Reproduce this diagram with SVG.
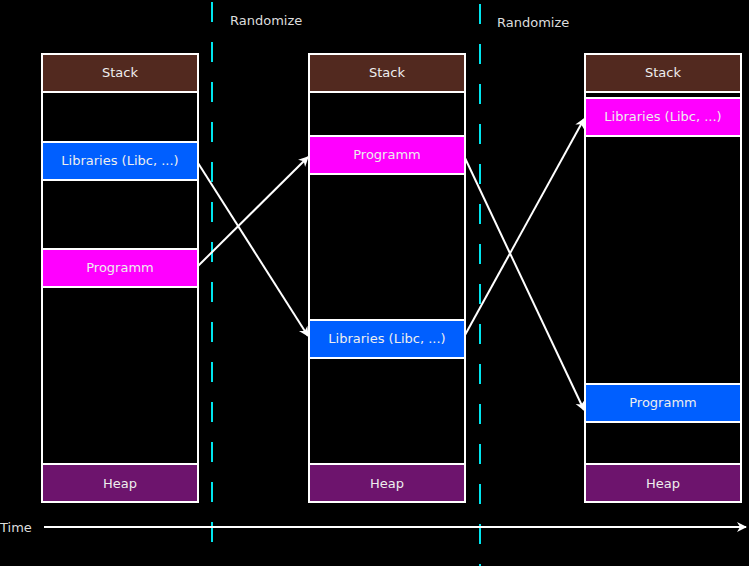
<svg xmlns="http://www.w3.org/2000/svg" width="749" height="566" viewBox="0 0 749 566">
<style>
.col{fill:#000;stroke:#fff;stroke-width:2}
.box{stroke:#fff;stroke-width:2}
.stack{fill:#52291f}
.heap{fill:#6d146d}
.blue{fill:#005fff}
.magenta{fill:#ff00ff}
.lbl{font-family:"DejaVu Sans",sans-serif;font-size:13px;fill:#eeeeee;text-anchor:middle}
.ann{font-family:"DejaVu Sans",sans-serif;font-size:13px;fill:#dddddd}
.dash{stroke:#00e5ee;stroke-width:2;stroke-dasharray:20 20;fill:none}
.conn{stroke:#fff;stroke-width:2;fill:none;marker-end:url(#ah)}
</style>
<defs>
<marker id="ah" viewBox="-10 -6 12 12" refX="0" refY="0" markerWidth="12" markerHeight="12" markerUnits="userSpaceOnUse" orient="auto">
<path d="M1,0 L-9,-5 L-6,0 L-9,5 z" fill="#fff"/>
</marker>
</defs>
<rect width="749" height="566" fill="#000"/>
<g id="randomize-lines">
<line class="dash" x1="212" y1="2" x2="212" y2="542"/>
<line class="dash" x1="480" y1="4" x2="480" y2="566"/>
</g>
<text class="ann" x="230" y="25">Randomize</text>
<text class="ann" x="497" y="27">Randomize</text>
<g id="memory1">
<rect class="col" x="42" y="54" width="156" height="448"/>
<g id="stack1"><rect class="box stack" x="42" y="54" width="156" height="38"/><text class="lbl" x="120" y="77">Stack</text></g>
<g id="lib1"><rect class="box blue" x="42" y="142" width="156" height="38"/><text class="lbl" x="120" y="165">Libraries (Libc, ...)</text></g>
<g id="prog1"><rect class="box magenta" x="42" y="249" width="156" height="38"/><text class="lbl" x="120" y="272">Programm</text></g>
<g id="heap1"><rect class="box heap" x="42" y="464" width="156" height="38"/><text class="lbl" x="120" y="488">Heap</text></g>
</g>
<g id="memory2">
<rect class="col" x="309" y="54" width="156" height="448"/>
<g id="stack2"><rect class="box stack" x="309" y="54" width="156" height="38"/><text class="lbl" x="387" y="77">Stack</text></g>
<g id="prog2"><rect class="box magenta" x="309" y="136" width="156" height="38"/><text class="lbl" x="387" y="159">Programm</text></g>
<g id="lib2"><rect class="box blue" x="309" y="320" width="156" height="38"/><text class="lbl" x="387" y="343">Libraries (Libc, ...)</text></g>
<g id="heap2"><rect class="box heap" x="309" y="464" width="156" height="38"/><text class="lbl" x="387" y="488">Heap</text></g>
</g>
<g id="memory3">
<rect class="col" x="585" y="54" width="156" height="448"/>
<g id="stack3"><rect class="box stack" x="585" y="54" width="156" height="38"/><text class="lbl" x="663" y="77">Stack</text></g>
<g id="lib3"><rect class="box magenta" x="585" y="98" width="156" height="38"/><text class="lbl" x="663" y="121">Libraries (Libc, ...)</text></g>
<g id="prog3"><rect class="box blue" x="585" y="384" width="156" height="38"/><text class="lbl" x="663" y="407">Programm</text></g>
<g id="heap3"><rect class="box heap" x="585" y="464" width="156" height="38"/><text class="lbl" x="663" y="488">Heap</text></g>
</g>
<g id="connectors">
<line class="conn" x1="198" y1="163" x2="308" y2="336"/>
<line class="conn" x1="198" y1="266" x2="308" y2="157"/>
<line class="conn" x1="465" y1="158" x2="584" y2="410"/>
<line class="conn" x1="465" y1="335" x2="584" y2="119"/>
<line class="conn" x1="44" y1="527" x2="746" y2="527"/>
</g>
<text class="ann" x="0" y="532">Time</text>
</svg>
